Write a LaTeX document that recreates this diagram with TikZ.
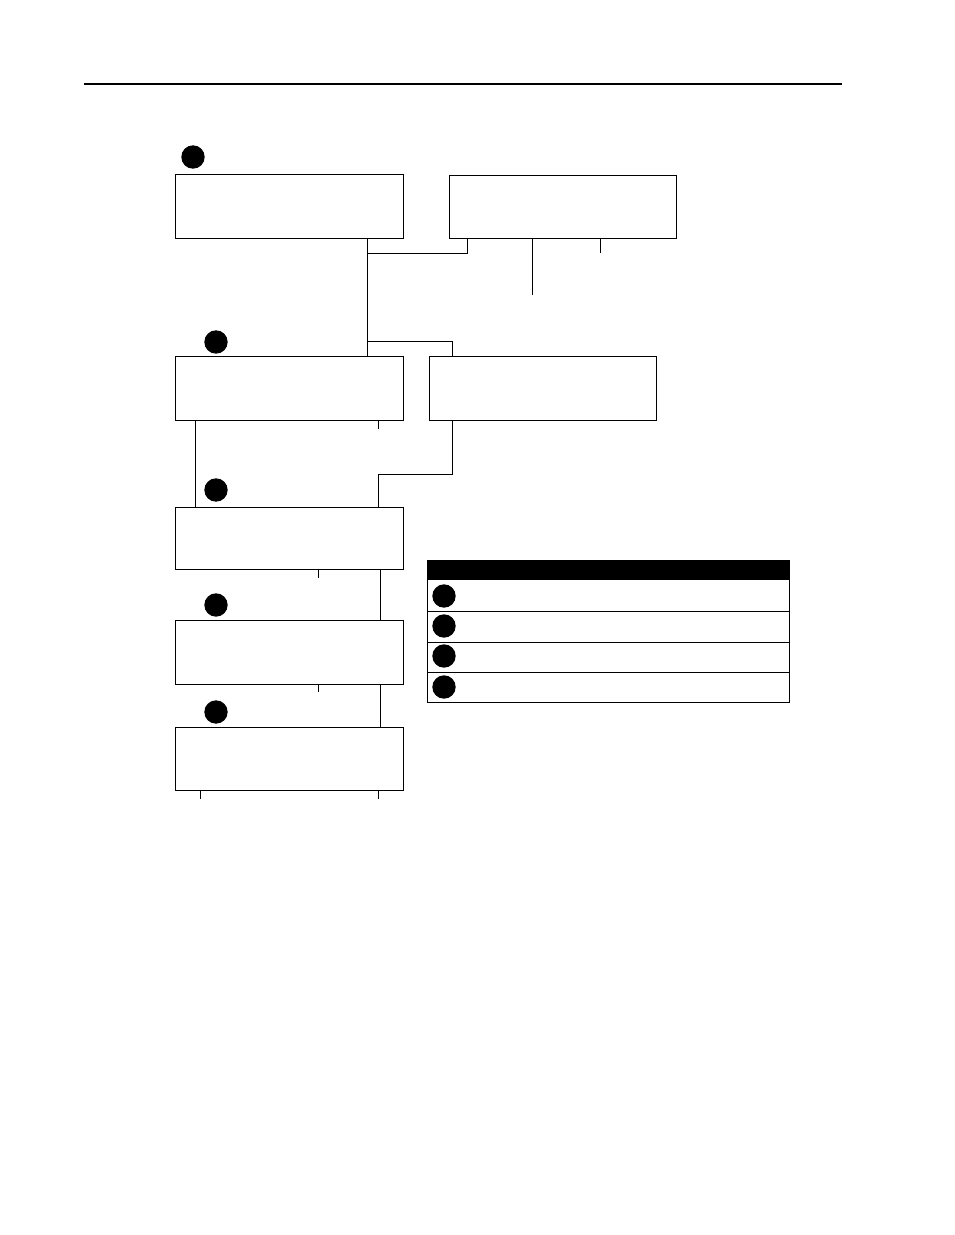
\documentclass[tikz,border=0pt]{standalone}
\begin{document}
\begin{tikzpicture}[x=0.75pt,y=-0.75pt,
  box/.style={draw,line width=0.9pt,rectangle,inner sep=0pt,anchor=north west},
  dot/.style={circle,fill=black,draw=none,minimum size=17.5pt,inner sep=0pt},
  conn/.style={line width=0.75pt},
  rule/.style={line width=1.6pt}]
\useasboundingbox (0,0) rectangle (954,1235);
% top rule
\coordinate (r1) at (84,84);
\coordinate (r2) at (842,84);
\draw[rule] (r1) -- (r2);
% boxes
\node[box,minimum width=171pt,minimum height=48pt] (A) at (175,174) {};
\node[box,minimum width=170.25pt,minimum height=47.25pt] (B) at (449,175) {};
\node[box,minimum width=171pt,minimum height=48pt] (C) at (175,356) {};
\node[box,minimum width=170.25pt,minimum height=48pt] (D) at (429,356) {};
\node[box,minimum width=171pt,minimum height=46.5pt] (E) at (175,507) {};
\node[box,minimum width=171pt,minimum height=48pt] (F) at (175,620) {};
\node[box,minimum width=171pt,minimum height=47.25pt] (G) at (175,727) {};
% numbered dots
\node[dot] (n1) at (193,157) {};
\node[dot] (n2) at (216,342) {};
\node[dot] (n3) at (216,490) {};
\node[dot] (n4) at (216,605) {};
\node[dot] (n5) at (216,712) {};
% x reference coordinates
\coordinate (x195) at (195,0);
\coordinate (x200) at (200,0);
\coordinate (x318) at (318,0);
\coordinate (x367) at (367,0);
\coordinate (x378) at (378,0);
\coordinate (x380) at (380,0);
\coordinate (x452) at (452,0);
\coordinate (x467) at (467,0);
\coordinate (x532) at (532,0);
\coordinate (x600) at (600,0);
% junctions and free ends
\coordinate (h1) at (367,253);
\coordinate (h2) at (367,341);
\coordinate (h3) at (378,474);
\coordinate (e1) at (532,295);
\coordinate (t1) at (600,253);
\coordinate (t2) at (378,429);
\coordinate (t3) at (318,578);
\coordinate (t4) at (318,692);
\coordinate (t5) at (200,799);
\coordinate (t6) at (378,799);
% connectors
\draw[conn] (A.south -| x367) -- (C.north -| x367);
\draw[conn] (h1) -| (B.south -| x467);
\draw[conn] (B.south -| x532) -- (e1);
\draw[conn] (B.south -| x600) -- (t1);
\draw[conn] (h2) -| (D.north -| x452);
\draw[conn] (C.south -| x195) -- (E.north -| x195);
\draw[conn] (C.south -| x378) -- (t2);
\draw[conn] (D.south -| x452) |- (h3) -- (E.north -| x378);
\draw[conn] (E.south -| x318) -- (t3);
\draw[conn] (E.south -| x380) -- (F.north -| x380);
\draw[conn] (F.south -| x318) -- (t4);
\draw[conn] (F.south -| x380) -- (G.north -| x380);
\draw[conn] (G.south -| x200) -- (t5);
\draw[conn] (G.south -| x378) -- (t6);
% legend
\node[box,minimum width=271.5pt,minimum height=106.5pt] (L) at (427,560) {};
\coordinate (lh) at (0,579);
\coordinate (l1) at (0,611);
\coordinate (l2) at (0,642);
\coordinate (l3) at (0,672);
\fill[black] (L.north west) rectangle (L.east |- lh);
\draw[conn] (L.west |- lh) -- (L.east |- lh);
\draw[conn] (L.west |- l1) -- (L.east |- l1);
\draw[conn] (L.west |- l2) -- (L.east |- l2);
\draw[conn] (L.west |- l3) -- (L.east |- l3);
\node[dot] (m1) at (444,596) {};
\node[dot] (m2) at (444,626) {};
\node[dot] (m3) at (444,656) {};
\node[dot] (m4) at (444,687) {};
\end{tikzpicture}
\end{document}
